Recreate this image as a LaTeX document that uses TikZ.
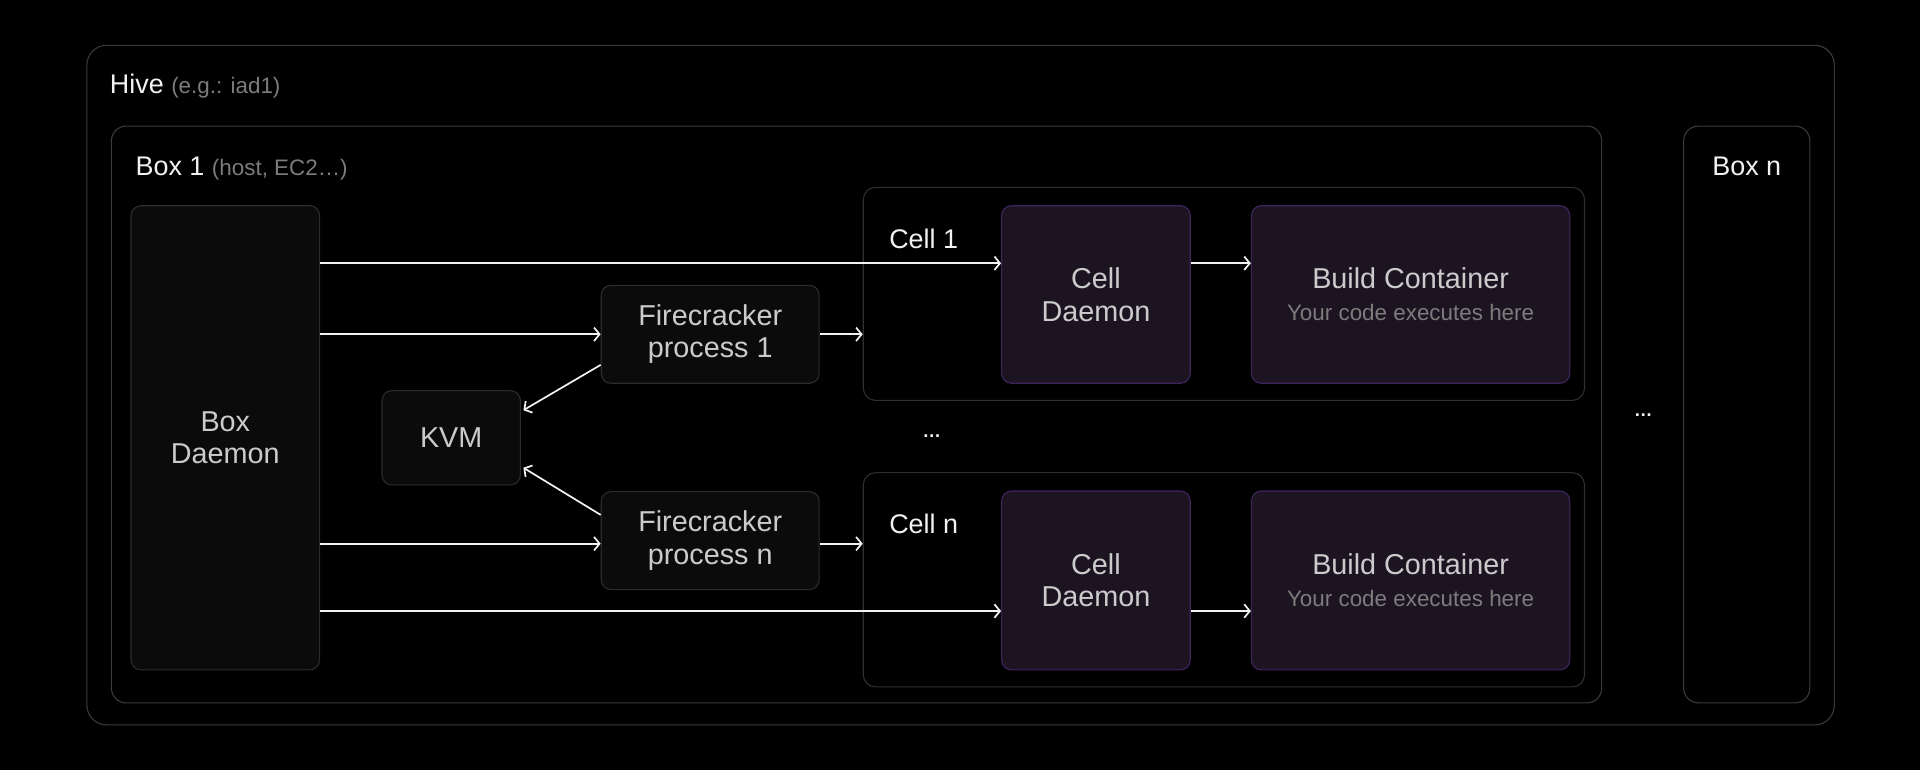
\documentclass[tikz,border=0pt]{standalone}
\usepackage{fontspec}
\setmainfont{Liberation Sans}
\definecolor{cLine}{HTML}{3A3A3A}
\definecolor{cEdge}{HTML}{2C2C2C}
\definecolor{cFill}{HTML}{0B0B0B}
\definecolor{cPurple}{HTML}{3E2560}
\definecolor{cPurpleFill}{HTML}{1C1421}
\definecolor{cText}{HTML}{CBCBCB}
\definecolor{cSub}{HTML}{7C7C7C}
\definecolor{cWhite}{HTML}{F2F2F2}
\usetikzlibrary{arrows.meta}
\usetikzlibrary{calc}

\begin{document}
\begin{tikzpicture}[x=1pt,y=-1pt,
	frame/.style={draw=cLine, line width=0.9pt, rounded corners=#1, inner sep=0pt},
	blk/.style={draw=cEdge, fill=cFill, line width=0.9pt, rounded corners=8pt, inner sep=0pt,
		text=cText, align=center, font=\fontsize{23.5}{26.5}\selectfont},
	pblk/.style={blk, draw=cPurple, fill=cPurpleFill},
	lbl/.style={text=cWhite, inner sep=0pt, anchor=base west, font=\fontsize{22}{26}\selectfont},
	dots/.style={text=cWhite, inner sep=0pt, anchor=base, font=\fontsize{15}{15}\selectfont\bfseries},
	arr/.style={draw=cWhite, line width=1.4pt, -{Straight Barb[length=4.5pt,width=11pt]}}]
		\useasboundingbox (0,0) rectangle (1568,629);
		\fill[black] (0,0) rectangle (1568,629);
		% frames
		\node[frame=16pt, minimum width=1427pt, minimum height=555pt] (hive) at (784.5,314.5) {};
		\node[frame=12pt, minimum width=1217pt, minimum height=471pt] (box1) at (699.5,338.5) {};
		\node[frame=12pt, minimum width=103pt, minimum height=471pt] (boxn) at (1426.5,338.5) {};
		\node[frame=10pt, draw=cEdge!80!cLine, minimum width=589pt, minimum height=174pt] (cell1) at (999.5,240) {};
		\node[frame=10pt, draw=cEdge!80!cLine, minimum width=589pt, minimum height=175pt] (celln) at (999.5,473.5) {};
		% labels
		\node[lbl] (hivelbl) at ([xshift=19pt,yshift=-40pt]hive.north west) {Hive {\fontsize{18.3}{22}\selectfont\color{cSub}(e.g.: iad1)}};
		\node[lbl] (box1lbl) at ([xshift=20pt,yshift=-40.5pt]box1.north west) {Box 1 {\fontsize{18.3}{22}\selectfont\color{cSub}(host, EC2…)}};
		\node[lbl, anchor=base] (boxnlbl) at ([yshift=-40.5pt]boxn.north) {Box n};
		\node[lbl] (cell1lbl) at ([xshift=21.5pt,yshift=-50.4pt]cell1.north west) {Cell 1};
		\node[lbl] (cellnlbl) at ([xshift=21.5pt,yshift=-50.4pt]celln.north west) {Cell n};
		\node[dots] (celldots) at (761,357) {…};
		\node[dots] (boxdots) at (1342,340) {…};
		% blocks
		\node[blk, minimum width=154pt, minimum height=379pt] (bd) at (184,357.5) {Box\\Daemon};
		\node[blk, minimum width=113pt, minimum height=77pt] (kvm) at (368.5,357.5) {KVM};
		\node[blk, minimum width=178pt, minimum height=80pt] (fc1) at (580,273) {Firecracker\\process 1};
		\node[blk, minimum width=178pt, minimum height=80pt] (fcn) at (580,441.5) {Firecracker\\process n};
		\node[pblk, minimum width=154pt, minimum height=145pt] (cd1) at (895,240.5) {Cell\\Daemon};
		\node[pblk, minimum width=260pt, minimum height=145pt, font=\fontsize{23.5}{26}\selectfont] (bc1) at (1152,240.5)
			{Build Container\\{\fontsize{18.3}{26}\selectfont\color{cSub}Your code executes here}};
		\node[pblk, minimum width=154pt, minimum height=146pt] (cdn) at (895,474) {Cell\\Daemon};
		\node[pblk, minimum width=260pt, minimum height=146pt, font=\fontsize{23.5}{26}\selectfont] (bcn) at (1152,474)
			{Build Container\\{\fontsize{18.3}{26}\selectfont\color{cSub}Your code executes here}};
		% arrow ends
		\coordinate (cd1in) at ([yshift=25.5pt]cd1.west);
		\coordinate (cdnin) at ([yshift=-25pt]cdn.west);
		% arrows
		\draw[arr] (bd.east |- cd1in) -- (cd1in);
		\draw[arr] (bd.east |- fc1.west) -- (fc1.west);
		\draw[arr] (fc1.east) -- (fc1.east -| cell1.west);
		\draw[arr] ([yshift=-25pt]fc1.west) -- ([xshift=2pt,yshift=22.5pt]kvm.east);
		\draw[arr] ([yshift=21pt]fcn.west) -- ([xshift=2pt,yshift=-24.5pt]kvm.east);
		\draw[arr] ([yshift=-2.5pt]bd.east |- fcn.west) -- ([yshift=-2.5pt]fcn.west);
		\draw[arr] ([yshift=-2.5pt]fcn.east) -- ([yshift=-2.5pt]fcn.east -| celln.west);
		\draw[arr] (bd.east |- cdnin) -- (cdnin);
		\draw[arr] ([yshift=25.5pt]cd1.east) -- ([yshift=25.5pt]bc1.west);
		\draw[arr] ([yshift=-25pt]cdn.east) -- ([yshift=-25pt]bcn.west);
\end{tikzpicture}
\end{document}
